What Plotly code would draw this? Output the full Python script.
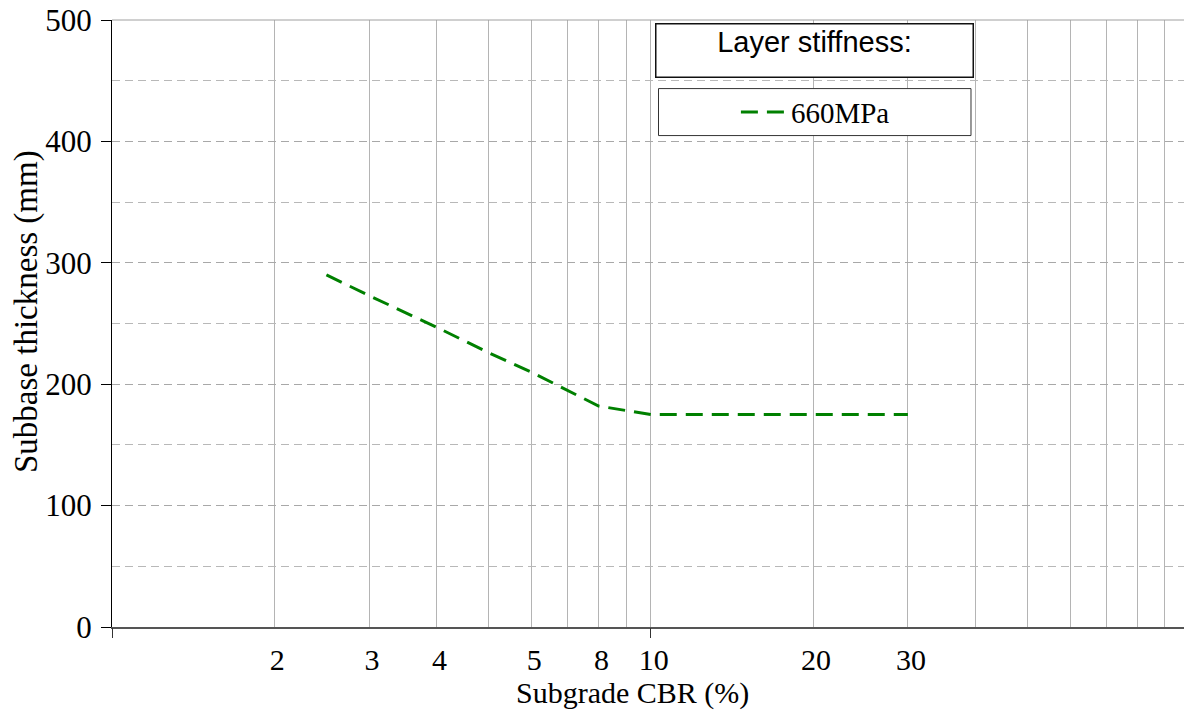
import plotly.graph_objects as go

# Design curve: subbase thickness against subgrade CBR
cbr = [2.5, 3, 4, 5, 6, 7, 8, 10, 30]
thickness = [290, 273, 247, 226, 210, 195, 182, 175, 175]
series_name = "660MPa"
legend_heading = "Layer stiffness:"
x_title = "Subgrade CBR (%)"
y_title = "Subbase thickness (mm)"

# Axis labelling
x_tick_vals = [2, 3, 4, 6, 8, 10, 20, 30]
x_tick_text = ["2", "3", "4", "5", "8", "10", "20", "30"]
x_grid_vals = [2, 3, 4, 5, 6, 7, 8, 9, 10, 20, 30, 40, 50, 60, 70, 80, 90]
x_major_ticks = [1, 10]
y_tick_vals = [0, 100, 200, 300, 400, 500]

SERIF = "Liberation Serif, Times New Roman, serif"
SANS = "Liberation Sans, Arial, sans-serif"
X_RANGE = [0, 1.9896]

fig = go.Figure()
fig.add_trace(go.Scatter(
    x=cbr, y=thickness, mode="lines", name=series_name,
    line=dict(color="#008000", width=3, dash="17px,9px"),
))
# carrier for the decade tick marks axis
fig.add_trace(go.Scatter(x=[], y=[], xaxis="x2", showlegend=False, hoverinfo="skip"))

fig.update_layout(
    width=1184, height=711,
    margin=dict(l=112, r=0, t=20, b=84),
    paper_bgcolor="white", plot_bgcolor="white",
    font=dict(family=SERIF, size=29, color="black"),
    xaxis=dict(
        type="log", range=X_RANGE,
        tickmode="array", tickvals=x_tick_vals, ticktext=x_tick_text,
        ticks="", showgrid=False, zeroline=False,
        showline=True, linecolor="#555555", linewidth=2,
        ticklabelshift=3, ticklabelstandoff=5,
        tickfont=dict(family=SERIF, size=30, color="black"),
        minor=dict(tickmode="array", tickvals=x_grid_vals, showgrid=True,
                   gridcolor="#b4b4b4", gridwidth=1, ticks=""),
    ),
    xaxis2=dict(
        type="log", range=X_RANGE, overlaying="x", anchor="y", side="bottom",
        tickmode="array", tickvals=x_major_ticks, ticks="outside", ticklen=10,
        tickcolor="#333333", tickwidth=1, showticklabels=False,
        showgrid=False, showline=False, zeroline=False,
    ),
    yaxis=dict(
        range=[0, 500], tickmode="array", tickvals=y_tick_vals,
        ticks="outside", ticklen=10, tickcolor="black", tickwidth=1,
        showline=True, linecolor="black", linewidth=1, zeroline=False,
        showgrid=True, gridcolor="#a8a8a8", gridwidth=1, griddash="8px,5px",
        minor=dict(dtick=50, showgrid=True, gridcolor="#b8b8b8", gridwidth=1,
                   griddash="8px,5px", ticks=""),
        tickfont=dict(family=SERIF, size=31, color="black"),
        ticklabelstandoff=3,
    ),
    legend=dict(
        x=0.582, y=0.848, xanchor="left", yanchor="middle",
        bgcolor="rgba(0,0,0,0)", borderwidth=0,
        font=dict(family=SERIF, size=29, color="black"),
        itemwidth=45,
    ),
    showlegend=True,
)

# axis titles
fig.add_annotation(
    text=x_title, xref="paper", yref="paper", x=0.486, y=-0.077,
    xanchor="center", yanchor="top", showarrow=False,
    font=dict(family=SERIF, size=30, color="black"),
)
fig.add_annotation(
    text=y_title, xref="paper", yref="paper", x=-0.0793, y=0.5206,
    xanchor="center", yanchor="middle", textangle=-90, showarrow=False,
    font=dict(family=SERIF, size=33, color="black"),
)

# top border of the plotting area
fig.add_shape(type="line", xref="paper", yref="paper", x0=0, x1=1, y0=1, y1=1,
              line=dict(color="#a0a0a0", width=1))
# frame around the legend entry
fig.add_shape(type="rect", xref="paper", yref="paper",
              x0=0.5098, x1=0.8013, y0=0.8096, y1=0.887,
              line=dict(color="#333333", width=1), fillcolor="white", layer="above")
# legend heading box
fig.add_annotation(
    text=legend_heading, xref="paper", yref="paper", x=0.6549, y=0.9496,
    xanchor="center", yanchor="middle", showarrow=False,
    font=dict(family=SANS, size=29, color="black"),
    width=314, height=50, valign="top", bgcolor="white",
    bordercolor="#111111", borderwidth=1.5, borderpad=1,
)

fig.write_html("out.html")
